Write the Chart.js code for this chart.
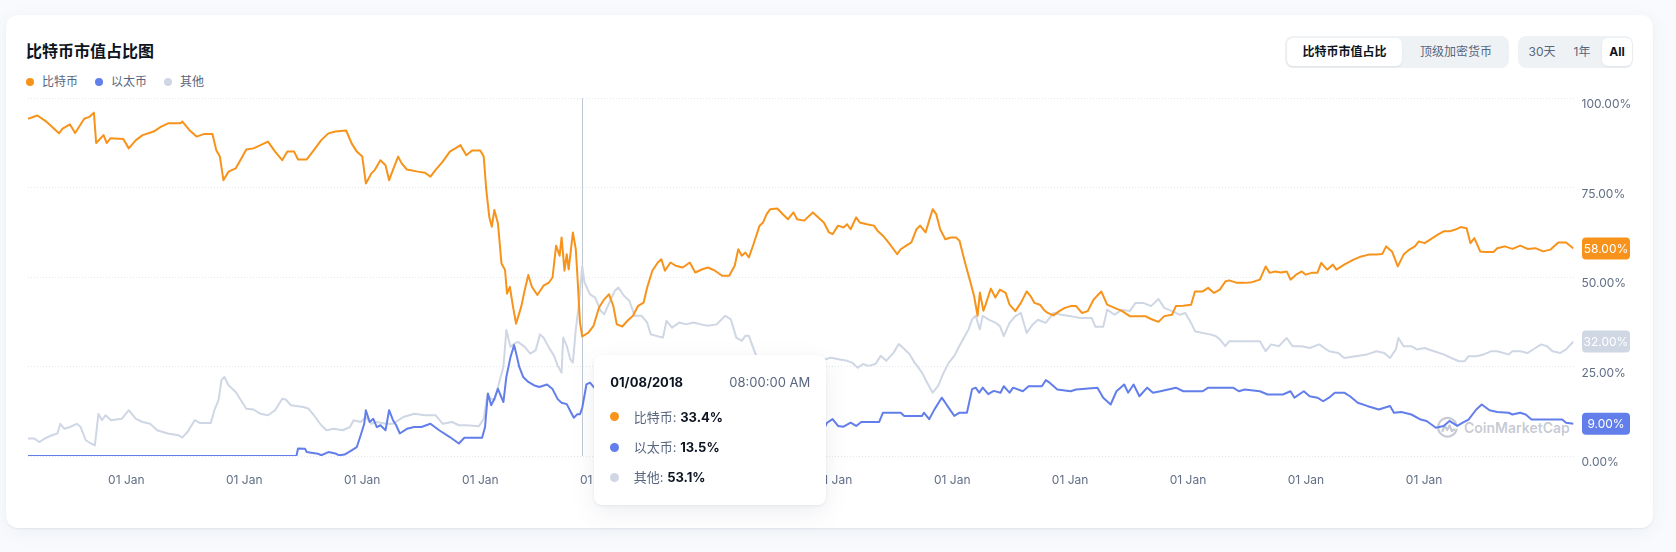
<!DOCTYPE html>
<html lang="zh-CN">
<head>
<meta charset="utf-8">
<title>比特币市值占比图</title>
<script src="https://cdn.jsdelivr.net/npm/chart.js@4.4.1/dist/chart.umd.min.js"></script>
<style>
  html, body { margin: 0; padding: 0; }
  body {
    width: 1676px; height: 552px; position: relative; overflow: hidden;
    background: #f8fafd;
    font-family: Inter, "Noto Sans CJK SC", "Noto Sans", sans-serif;
    color: #0d1421;
  }
  .card {
    position: absolute; left: 6px; top: 15px; width: 1647px; height: 513px;
    background: #fff; border-radius: 12px;
    box-shadow: 0 1px 2px rgba(88,102,126,0.10), 0 4px 20px rgba(88,102,126,0.06);
  }
  .title { position: absolute; left: 26px; top: 41px; font-size: 16px; line-height: 21px; font-weight: 700; }
  .legend { position: absolute; left: 26px; top: 73px; display: flex; gap: 17px; font-size: 12px; line-height: 17px; color: #58667e; }
  .legend .item { display: flex; align-items: center; }
  .legend i { width: 8px; height: 8px; border-radius: 50%; margin-right: 8px; display: inline-block; }
  .tabs { position: absolute; top: 36px; height: 32px; background: #eff2f5; border-radius: 8px; }
  .tab { position: absolute; top: 2px; height: 28px; line-height: 28px; font-size: 12px; color: #58667e; text-align: center; border-radius: 6px; }
  .tab.on { background: #fff; color: #0d1421; font-weight: 700; box-shadow: 0 1px 2px rgba(88,102,126,0.12); }
  #chart { position: absolute; left: 0; top: 0; z-index: 2; }
  .watermark {
    position: absolute; left: 1436px; top: 416px; z-index: 1;
    display: flex; align-items: center; gap: 5px;
    color: rgba(128,138,157,0.45); font-size: 14px; font-weight: 600;
  }
  .tip {
    position: absolute; top: 355px; width: 232px; height: 150px; z-index: 3;
    background: #fff; border-radius: 8px; font-size: 13px;
    box-shadow: 0 1px 3px rgba(88,102,126,0.10), 0 8px 24px rgba(88,102,126,0.10);
  }
  .tip .date { position: absolute; left: 16px; top: 18px; line-height: 18px; font-weight: 700; }
  .tip .time { position: absolute; right: 16px; top: 18px; line-height: 18px; color: #58667e; }
  .tip .row { position: absolute; left: 16px; line-height: 18px; display: flex; align-items: center; color: #58667e; white-space: nowrap; }
  .tip .row i { width: 9px; height: 9px; border-radius: 50%; margin-right: 14.5px; display: inline-block; }
  .tip .row b { color: #0d1421; }
</style>
</head>
<body>
<div class="card"></div>
<div class="title">比特币市值占比图</div>
<div class="legend" id="legend"></div>

<div class="tabs" style="left:1285px;width:224px">
  <div class="tab on" style="left:2px;width:115px">比特币市值占比</div>
  <div class="tab" style="left:121px;width:100px">顶级加密货币</div>
</div>
<div class="tabs" style="left:1518px;width:115px">
  <div class="tab" style="left:6px;width:36px">30天</div>
  <div class="tab" style="left:46px;width:36px">1年</div>
  <div class="tab on" style="left:84px;width:30px">All</div>
</div>

<div class="watermark">
  <svg width="23" height="23" viewBox="0 0 23 23" fill="none" stroke="currentColor" stroke-width="2.2" stroke-linecap="round" stroke-linejoin="round">
    <path d="M20.5 13.5 A9.3 9.3 0 1 1 20.5 9"/>
    <path d="M6.5 15 L8.8 9.5 L11.2 14 L13.6 9.5 L15.8 15 L18 13.5"/>
  </svg>
  <span>CoinMarketCap</span>
</div>

<canvas id="chart" width="1676" height="552"></canvas>
<div class="tip" id="tip"></div>

<script>
// 比特币 (BTC) 市值占比, %
const btcDates = [
  '2013-04-28','2013-05-27','2013-06-25','2013-08-02','2013-08-13','2013-09-05','2013-09-21','2013-10-19','2013-11-04','2013-11-18','2013-11-25','2013-12-18','2013-12-28',
  '2014-01-08','2014-02-17','2014-03-06','2014-03-28','2014-04-18','2014-05-22','2014-06-13','2014-07-06','2014-08-13','2014-08-19','2014-09-10','2014-10-02','2014-10-24','2014-11-20','2014-12-02','2014-12-13','2014-12-24',
  '2015-01-09','2015-01-31','2015-03-05','2015-03-27','2015-04-18','2015-05-11','2015-06-02','2015-06-24','2015-07-10','2015-07-31','2015-08-12','2015-09-08','2015-09-30','2015-10-23','2015-11-14','2015-12-06',
  '2016-01-08','2016-01-25','2016-02-10','2016-02-27','2016-03-09','2016-03-26','2016-04-06','2016-04-23','2016-05-09','2016-05-20','2016-06-01','2016-06-17','2016-06-28','2016-07-14','2016-08-17','2016-09-08','2016-09-25','2016-10-11','2016-11-02','2016-11-24','2016-12-11','2016-12-27',
  '2017-01-14','2017-02-01','2017-02-26','2017-03-09','2017-03-17','2017-03-26','2017-04-03','2017-04-11','2017-04-22','2017-05-03','2017-05-14','2017-05-20','2017-05-29','2017-06-06','2017-06-17','2017-07-03','2017-07-14','2017-07-25','2017-08-05','2017-08-22','2017-09-10','2017-09-27','2017-10-08','2017-10-19','2017-10-30','2017-11-05','2017-11-14','2017-11-21','2017-11-27','2017-12-10','2017-12-19','2017-12-24',
  '2018-01-01','2018-01-08','2018-01-27','2018-02-12','2018-03-01','2018-03-17','2018-04-01','2018-04-14','2018-04-25','2018-05-12','2018-05-28','2018-06-14','2018-06-30','2018-07-17','2018-07-28','2018-08-13','2018-08-30','2018-09-10','2018-09-21','2018-10-08','2018-10-24','2018-11-15','2018-12-07','2018-12-24',
  '2019-01-15','2019-02-01','2019-02-23','2019-03-17','2019-04-08','2019-04-25','2019-05-06','2019-05-17','2019-05-28','2019-06-08','2019-06-24','2019-07-11','2019-07-22','2019-08-02','2019-08-13','2019-09-04','2019-09-21','2019-10-07','2019-10-24','2019-11-04','2019-11-26','2019-12-23',
  '2020-01-09','2020-01-26','2020-02-11','2020-02-22','2020-03-10','2020-03-27','2020-04-07','2020-04-18','2020-05-05','2020-05-16','2020-06-07','2020-06-29','2020-07-10','2020-07-27','2020-08-13','2020-08-29','2020-09-09','2020-09-20','2020-10-07','2020-10-23','2020-11-08','2020-11-19','2020-12-06','2020-12-17','2020-12-28',
  '2021-01-08','2021-01-20','2021-02-05','2021-02-22','2021-03-10','2021-03-21','2021-04-07','2021-04-24','2021-05-05','2021-05-16','2021-05-23','2021-06-03','2021-06-12','2021-06-26','2021-07-10','2021-07-24','2021-08-11','2021-08-23','2021-09-10','2021-09-27','2021-10-15','2021-10-27','2021-11-08','2021-11-25','2021-12-07','2021-12-19',
  '2022-01-06','2022-01-24','2022-02-10','2022-02-28','2022-03-17','2022-04-04','2022-04-22','2022-05-10','2022-06-03','2022-06-21','2022-07-14','2022-08-07','2022-08-30','2022-09-23','2022-10-17','2022-11-04','2022-11-27','2022-12-15',
  '2023-01-08','2023-01-20','2023-02-12','2023-03-08','2023-03-20','2023-04-13','2023-04-30','2023-05-18','2023-06-05','2023-06-22','2023-07-04','2023-07-28','2023-08-21','2023-09-13','2023-10-07','2023-10-25','2023-11-06','2023-11-23','2023-12-11','2023-12-29',
  '2024-01-10','2024-01-27','2024-02-14','2024-02-26','2024-03-15','2024-04-02','2024-04-14','2024-05-02','2024-05-20','2024-05-31','2024-06-24','2024-07-23','2024-08-16','2024-09-08','2024-10-02','2024-10-20','2024-11-01','2024-11-19','2024-12-01','2024-12-07','2024-12-25',
  '2025-01-12','2025-01-29','2025-02-10','2025-02-28','2025-03-17','2025-04-10','2025-04-28','2025-05-16','2025-06-03','2025-06-20','2025-07-08','2025-07-20','2025-08-01','2025-08-19','2025-09-05','2025-09-29','2025-10-11','2025-11-03','2025-11-27','2025-12-21',
  '2026-01-13','2026-02-06','2026-03-02','2026-03-25','2026-04-18','2026-05-12','2026-06-04'
];
const btcValues = [
  94.3, 95.2, 93.4, 90.2, 91.5, 92.7, 90.3, 94.3, 94.8, 96, 87.5, 89.7, 87.5,
  88.8, 88.6, 86, 88.3, 89.7, 90.7, 92, 93, 93, 93.5, 91.1, 89.3, 90, 90, 85.5, 83.7, 77.1,
  79.5, 80.4, 85.7, 86, 86.9, 87.9, 85.1, 82.7, 85.1, 85.1, 82.9, 82.9, 85.5, 88.3, 90.2, 90.7,
  91, 87.4, 85.1, 83.7, 76.2, 79, 80, 82.7, 81.3, 77.1, 80, 83.7, 81.8, 80.1, 79.5, 79.2, 78.1, 80, 82.3, 85.1, 86, 86.9,
  84.1, 85.4, 85.4, 83.7, 74.3, 66.9, 64.1, 68.8, 65, 53.8, 52, 45.4, 47.3, 42.6, 37, 41.7, 46.4, 50.6, 47.3, 45, 47.6, 48.5, 49.9, 58.8, 56, 61.1, 51.8, 56.4, 52.2, 62.5, 57.8, 50.4,
  37.3, 33.4, 34.5, 36.4, 41.5, 43.8, 45.2, 42, 36.8, 36.2, 37.8, 39.2, 42, 42.9, 47.1, 51.8, 54.1, 55, 51.8, 54.1, 53.2, 52.7, 54.1, 51.3,
  52.2, 52.7, 51.8, 50.4, 50.4, 53.2, 57.8, 56, 56.9, 55.5, 59.7, 64.4, 65.3, 67.6, 69, 69.2, 67.6, 66.2, 68.1, 66.2, 65.8, 68.1,
  66.7, 65.3, 62.5, 62, 64.4, 63.9, 64.8, 63.4, 66.7, 65.3, 64.8, 64.4, 63, 61.6, 59.7, 57.8, 56.4, 57.8, 58.8, 59.7, 63.4, 64.4, 62.5, 65.8, 69,
  67.6, 63.4, 60.6, 61.1, 61.1, 60.2, 54.1, 48.5, 44.8, 39.2, 45.7, 40.6, 42.9, 46.8, 44.3, 46.5, 45.6, 42.3, 40.5, 42.8, 46, 44.7, 42.8, 42.3, 40.9, 40,
  39.3, 40.5, 41.4, 41.9, 41.9, 40, 40.5, 43.7, 46, 42.3, 41.4, 40.5, 39.1, 39.1, 39.1, 38.3, 37.5, 39.1,
  39.5, 41.9, 42, 42.3, 46, 46, 47, 45.6, 46.5, 48.8, 49.1, 48.4, 48.4, 48.6, 49.3, 53, 51.2, 51.6, 51.3, 51.6,
  49.3, 50.7, 51.6, 50.7, 51.2, 51.2, 54, 52.1, 53.5, 52.1, 53.5, 54.9, 55.8, 56.3, 56.3, 56.5, 58.6, 57.2, 54.4, 53, 56.3,
  57.7, 58.6, 60, 59.5, 60.5, 61.9, 62.8, 62.8, 63.3, 64, 63.7, 59.5, 60.9, 57.2, 57, 57, 58.1, 58.6, 57.9, 58.8,
  57.9, 58.1, 57.2, 57.7, 59.7, 59.7, 58
];

// 以太币 (ETH) 市值占比, %
const ethDates = [
  '2013-04-28',
  '2015-08-07','2015-08-12','2015-09-03','2015-09-08','2015-10-12','2015-10-23','2015-11-14','2015-12-06','2015-12-17',
  '2016-01-03','2016-01-25','2016-02-10','2016-02-22','2016-03-04','2016-03-09','2016-03-21','2016-04-01','2016-04-12','2016-04-23','2016-05-09','2016-05-20','2016-06-01','2016-06-11','2016-06-22','2016-07-14','2016-08-06','2016-08-28','2016-09-25','2016-10-22','2016-11-24','2016-12-22',
  '2017-01-08','2017-03-04','2017-03-13','2017-03-22','2017-04-01','2017-04-11','2017-04-22','2017-04-28','2017-05-09','2017-05-18','2017-05-31','2017-06-11','2017-06-20','2017-06-27','2017-07-09','2017-07-25','2017-08-11','2017-08-28','2017-09-21','2017-10-08','2017-10-24','2017-11-05','2017-11-21','2017-12-02','2017-12-13','2017-12-24',
  '2018-01-01','2018-01-08','2018-01-21','2018-02-01','2018-03-01','2018-04-01','2018-05-01','2018-06-01','2018-07-01','2018-08-01','2018-09-01','2018-10-01','2018-11-01','2018-12-01',
  '2019-01-01','2019-02-01','2019-03-01','2019-04-01','2019-05-01','2019-06-01','2019-07-01','2019-08-01','2019-09-01','2019-10-01','2019-11-01','2019-12-01',
  '2020-01-01','2020-01-26','2020-02-05','2020-02-22','2020-03-10','2020-03-27','2020-04-18','2020-05-05','2020-05-21','2020-07-15','2020-07-27','2020-09-20','2020-10-01','2020-11-25','2020-12-01','2020-12-17',
  '2021-01-03','2021-01-25','2021-02-05','2021-02-22','2021-03-05','2021-03-21','2021-04-13','2021-04-29','2021-05-10','2021-05-21','2021-06-01','2021-06-18','2021-07-05','2021-07-26','2021-08-05','2021-08-23','2021-09-03','2021-10-03','2021-10-21','2021-12-01','2021-12-13','2021-12-25',
  '2022-01-18','2022-02-28','2022-03-17','2022-05-22','2022-06-09','2022-07-02','2022-07-20','2022-08-13','2022-08-25','2022-09-11','2022-09-29','2022-10-23','2022-11-10','2022-12-03',
  '2023-01-20','2023-02-12','2023-04-13','2023-04-30','2023-07-16','2023-08-03','2023-08-21','2023-10-07','2023-10-31','2023-12-17',
  '2024-01-10','2024-01-22','2024-02-20','2024-03-09','2024-04-02','2024-04-20','2024-05-08','2024-05-26','2024-06-24','2024-07-12','2024-08-05','2024-09-03','2024-10-09','2024-11-13','2024-11-25','2024-12-18',
  '2025-01-18','2025-02-16','2025-03-06','2025-04-04','2025-04-28','2025-05-16','2025-06-09','2025-06-26','2025-07-14','2025-08-07','2025-08-24','2025-09-17','2025-10-11','2025-11-15','2025-11-27','2025-12-21',
  '2026-01-07','2026-01-25','2026-04-30','2026-05-12','2026-06-04'
];
const ethValues = [
  0,
  0, 2.1, 2, 1.1, 0.65, 0.2, 1.1, 0.7, 0.2,
  0.4, 1.6, 2.5, 5.8, 9, 12.8, 9.5, 10.4, 8.1, 8.6, 7.2, 12.8, 10, 8.6, 6.3, 7.6, 8.1, 8.1, 9, 7.2, 5.3, 3.5,
  5.1, 5.1, 8.1, 17.5, 14.2, 16, 18.8, 17.4, 15.1, 22.1, 27.7, 31, 27.7, 24.9, 22.1, 20.7, 19.8, 19.3, 20, 18.7, 15.9, 14.9, 14.5, 12.6, 10.7, 11.7,
  11.7, 13.5, 20, 20.5, 17.5, 16.5, 17.5, 16, 16.5, 13.5, 10.5, 10.8, 10.2, 10.8,
  10.5, 10.5, 9.5, 9.5, 9.2, 9.5, 8.2, 7.5, 7.6, 8.4, 7.8, 7.3,
  7.1, 7.5, 9.3, 10.3, 8.4, 8.2, 9.3, 8.4, 9.5, 9.5, 12.1, 12.1, 11.2, 11.2, 12.1, 10.3,
  13.1, 16.3, 14.9, 12.6, 11.2, 12.1, 12.1, 18.7, 19.1, 17.7, 19.1, 17.3, 18.2, 17.7, 19.5, 17.7, 19.1, 18.1, 19.5, 19.5, 21.2, 20.5,
  18.6, 18.1, 18.6, 19.1, 16.3, 14.4, 18.1, 20, 17.7, 20, 16.7, 19.1, 17.7, 18.1,
  19.1, 18.1, 18.1, 19.1, 19.1, 18.1, 18.6, 18.1, 17.2, 17.2,
  18.1, 16.3, 18.1, 16.7, 16.3, 15.3, 16.3, 17.7, 17.7, 16.7, 14.9, 14, 13, 14, 12.1, 12.3,
  11.6, 10.2, 9.8, 7.9, 8.4, 9.8, 8.4, 9.3, 10.2, 13, 14.4, 12.8, 12.3, 12.1, 11.6, 12.1,
  11.6, 10.2, 10.2, 9.3, 9
];

// 其他 市值占比, %
const otherDates = [
  '2013-04-28','2013-05-17','2013-06-02','2013-06-19','2013-07-11','2013-07-28','2013-08-06','2013-08-19','2013-09-05','2013-09-26','2013-10-08','2013-10-24','2013-11-09','2013-11-21','2013-12-02','2013-12-13','2013-12-24',
  '2014-01-10','2014-02-12','2014-03-06','2014-03-28','2014-04-18','2014-05-11','2014-06-02','2014-07-05','2014-08-07','2014-08-19','2014-09-04','2014-09-26','2014-10-13','2014-11-15','2014-11-26','2014-12-09','2014-12-18','2014-12-27',
  '2015-01-09','2015-01-31','2015-03-05','2015-03-27','2015-04-18','2015-05-11','2015-06-02','2015-06-24','2015-07-05','2015-07-21','2015-08-29','2015-09-14','2015-09-30','2015-10-23','2015-11-08','2015-12-01','2015-12-28',
  '2016-01-20','2016-01-31','2016-02-22','2016-03-09','2016-03-26','2016-04-12','2016-05-09','2016-06-01','2016-07-03','2016-08-06','2016-09-08','2016-10-11','2016-11-02','2016-12-01','2016-12-22',
  '2017-01-14','2017-02-22','2017-03-09','2017-03-20','2017-04-01','2017-04-11','2017-04-22','2017-05-03','2017-05-09','2017-05-18','2017-05-31','2017-06-11','2017-06-23','2017-07-14','2017-07-31','2017-08-17','2017-08-30','2017-09-10','2017-09-27','2017-10-13','2017-10-24','2017-11-05','2017-11-10','2017-11-21','2017-12-02','2017-12-10','2017-12-19','2017-12-28',
  '2018-01-08','2018-01-15','2018-02-01','2018-02-17','2018-03-06','2018-03-17','2018-04-02','2018-04-19','2018-04-30','2018-05-17','2018-06-03','2018-06-19','2018-07-11','2018-07-28','2018-08-08','2018-08-24','2018-09-15','2018-09-26','2018-10-13','2018-11-04','2018-11-26','2018-12-18',
  '2019-01-10','2019-02-01','2019-02-28','2019-03-27','2019-04-13','2019-04-30','2019-05-17','2019-05-28','2019-06-08','2019-06-19','2019-07-05','2019-08-01','2019-09-04','2019-10-07','2019-11-04','2019-12-01',
  '2020-01-01','2020-01-31','2020-02-16','2020-03-15','2020-04-07','2020-04-23','2020-05-10','2020-05-26','2020-06-12','2020-07-04','2020-07-20','2020-08-06','2020-08-29','2020-09-14','2020-10-01','2020-10-17','2020-11-02','2020-11-25','2020-12-11','2020-12-28',
  '2021-01-14','2021-01-31','2021-02-16','2021-03-05','2021-03-21','2021-04-07','2021-04-18','2021-04-29','2021-05-10','2021-05-23','2021-06-01','2021-06-18','2021-07-10','2021-07-24','2021-08-05','2021-08-23','2021-09-10','2021-09-27','2021-10-15','2021-11-02','2021-11-19','2021-12-13',
  '2022-01-06','2022-01-30','2022-02-28','2022-03-29','2022-05-04','2022-05-16','2022-06-09','2022-06-21','2022-07-14','2022-08-07','2022-08-30','2022-09-17','2022-10-11','2022-11-04','2022-11-27','2022-12-15',
  '2023-01-08','2023-01-31','2023-02-18','2023-03-08','2023-03-20','2023-04-13','2023-05-06','2023-05-24','2023-06-05','2023-06-22','2023-07-04','2023-08-21','2023-10-07','2023-10-25','2023-11-11','2023-12-05','2023-12-29',
  '2024-01-16','2024-02-14','2024-03-09','2024-04-08','2024-05-08','2024-06-06','2024-06-24','2024-07-29','2024-09-03','2024-10-02','2024-10-26','2024-11-13','2024-12-01','2024-12-09','2024-12-25',
  '2025-01-18','2025-02-04','2025-02-28','2025-03-29','2025-04-28','2025-05-22','2025-06-14','2025-07-02','2025-07-14','2025-08-07','2025-08-30','2025-09-23','2025-10-11','2025-11-15','2025-11-27','2025-12-21',
  '2026-01-13','2026-02-06','2026-02-24','2026-03-14','2026-03-31','2026-04-24','2026-05-12','2026-06-04'
];
const otherValues = [
  4.9, 4.9, 3.9, 4.9, 5.8, 6.3, 9, 7.6, 8.1, 9, 8.1, 4.4, 3.5, 3, 11.8, 10, 11.4,
  10, 10.4, 12.8, 10.4, 9.5, 9, 7.2, 6.3, 5.8, 5.2, 6.7, 10, 9.2, 9.2, 12.8, 15.6, 21.2, 22.1,
  19.8, 17.9, 13.2, 13, 11.8, 11.4, 12.8, 16, 15.8, 14.2, 13.7, 13.2, 11.4, 8.6, 7.2, 7.6, 7.2,
  8.1, 10, 9.5, 10.9, 9, 9.5, 9, 9, 10.9, 11.8, 11.4, 11.4, 9, 9.5, 8.6,
  8.6, 8.3, 10.4, 17, 16, 15.6, 19.3, 23, 24.9, 35.2, 30.5, 31.4, 31.9, 30.5, 28.6, 29.6, 34, 33.1, 30.3, 28, 25.2, 23.3, 33.1, 30.8, 27, 26.1, 35.4, 42,
  53.1, 48.5, 45.2, 44.3, 40.6, 39.6, 42.9, 46.2, 47.1, 44.8, 43.4, 39.2, 39.2, 37.3, 34, 33.6, 33.1, 37.8, 35.9, 37.3, 36.8, 37.3,
  36.8, 36.4, 36.8, 39.2, 38.2, 33.1, 32.2, 33.6, 33.6, 30.8, 27, 24.9, 23.2, 25.4, 26, 26.7,
  25.9, 27, 27.5, 27, 26.6, 26.1, 24.7, 25.7, 25.2, 25.7, 28, 26.6, 28.9, 31.3, 29.9, 28.5, 26.1, 23.3, 20.5, 17.7,
  19.6, 23.3, 26.1, 28, 30.8, 33.6, 35.4, 38.2, 39.2, 35.4, 39.2, 38.2, 37.3, 36.3, 33.5, 37.2, 39.1, 40, 34.4, 36.7, 38.1, 37.2,
  40, 39.5, 39.1, 38.6, 38.6, 36.1, 36.1, 40.9, 39.5, 40.9, 40.5, 42.8, 42.8, 41.9, 43.9, 41.4,
  40.5, 39.5, 40, 37.2, 34.9, 34.4, 34, 33.5, 32.6, 30.7, 32.1, 32.1, 32.1, 29.3, 31.2, 30.7, 33,
  30.7, 30.7, 30.2, 31.2, 29.3, 28.8, 27.4, 27.9, 28.4, 29.3, 28.8, 27.4, 29.8, 33, 30.7,
  30.7, 29.8, 30.2, 29.3, 28.4, 27.4, 26.5, 26.5, 27.9, 27.9, 28.4, 29.3, 29.3, 28.4, 29.3, 29.3,
  28.8, 30.2, 31.2, 30.7, 29.3, 28.8, 29.8, 32
];

const seriesNames = ['比特币', '以太币', '其他'];
const tickYears = [2014, 2015, 2016, 2017, 2018, 2019, 2020, 2021, 2022, 2023, 2024, 2025];
const yTicks = [0, 25, 50, 75, 100];
const hoverDate = '2018-01-08';   // 悬停提示所在日期
const hoverTime = '08:00:00 AM';

const colors = ['#f7931a', '#627eea', '#cfd6e4'];
const monthNames = ['Jan','Feb','Mar','Apr','May','Jun','Jul','Aug','Sep','Oct','Nov','Dec'];
const toPoints = (dates, values) => dates.map((d, i) => ({ x: Date.parse(d), y: values[i] }));
const seriesDates = [btcDates, ethDates, otherDates];
const seriesValues = [btcValues, ethValues, otherValues];

// 图例
document.getElementById('legend').innerHTML = seriesNames
  .map((n, i) => `<span class="item"><i style="background:${colors[i]}"></i>${n}</span>`).join('');

// 悬停竖线
const crosshair = {
  id: 'crosshair',
  beforeDatasetsDraw(chart) {
    const { ctx, chartArea, scales } = chart;
    const x = Math.round(scales.x.getPixelForValue(Date.parse(hoverDate))) + 0.5;
    ctx.save();
    ctx.strokeStyle = '#c3c9d4';
    ctx.lineWidth = 1;
    ctx.beginPath();
    ctx.moveTo(x, chartArea.top);
    ctx.lineTo(x, chartArea.bottom);
    ctx.stroke();
    ctx.restore();
  }
};

// 右侧最新值标签
const lastBadges = {
  id: 'lastBadges',
  afterDatasetsDraw(chart) {
    const { ctx, chartArea, scales } = chart;
    ctx.save();
    chart.data.datasets.forEach(ds => {
      const last = ds.data[ds.data.length - 1].y;
      const y = scales.y.getPixelForValue(last);
      const x = chartArea.right + 8.5;
      ctx.fillStyle = ds.borderColor;
      ctx.beginPath();
      ctx.roundRect(x, y - 11, 48, 22, 4);
      ctx.fill();
      ctx.fillStyle = '#ffffff';
      ctx.font = '12px Inter, "Noto Sans CJK SC", sans-serif';
      ctx.textAlign = 'center';
      ctx.textBaseline = 'middle';
      ctx.fillText(last.toFixed(2) + '%', x + 24, y + 0.5);
    });
    ctx.restore();
  }
};

const chart = new Chart(document.getElementById('chart'), {
  type: 'line',
  data: {
    datasets: seriesNames.map((name, i) => ({
      label: name,
      data: toPoints(seriesDates[i], seriesValues[i]),
      borderColor: colors[i],
      backgroundColor: colors[i],
      borderWidth: 2,
      pointRadius: 0,
      tension: 0,
      borderJoinStyle: 'round',
      order: i + 1
    }))
  },
  options: {
    responsive: false,
    animation: false,
    devicePixelRatio: 1,
    parsing: false,
    layout: { padding: { left: 28, top: 98.3, right: 0, bottom: 0 } },
    plugins: { legend: { display: false }, tooltip: { enabled: false } },
    scales: {
      x: {
        type: 'linear',
        min: Date.parse(btcDates[0]),
        max: Date.parse(btcDates[btcDates.length - 1]),
        grid: { display: false },
        border: { display: false },
        afterBuildTicks: axis => { axis.ticks = tickYears.map(yr => ({ value: Date.UTC(yr, 0, 1) })); },
        afterFit: axis => { axis.height = 96; },
        ticks: {
          autoSkip: false,
          maxRotation: 0,
          align: 'start',
          padding: 9,
          color: '#616e85',
          font: { family: 'Inter, "Noto Sans CJK SC", sans-serif', size: 12 },
          callback: v => {
            const d = new Date(v);
            return String(d.getUTCDate()).padStart(2, '0') + ' ' + monthNames[d.getUTCMonth()];
          }
        }
      },
      y: {
        position: 'right',
        min: 0,
        max: 100,
        afterBuildTicks: axis => { axis.ticks = yTicks.map(v => ({ value: v })); },
        afterFit: axis => { axis.width = 102.5; },
        grid: { color: '#e3e7ee', drawTicks: false, lineWidth: 1 },
        border: { display: false, dash: [1, 2] },
        ticks: {
          padding: 8,
          labelOffset: 6.5,
          color: '#616e85',
          font: { family: 'Inter, "Noto Sans CJK SC", sans-serif', size: 12 },
          callback: v => v.toFixed(2) + '%'
        }
      }
    }
  },
  plugins: [crosshair, lastBadges]
});

// 悬停提示框
const tip = document.getElementById('tip');
const [yy, mm, dd] = hoverDate.split('-');
const rows = seriesNames.map((name, i) => {
  const v = seriesValues[i][seriesDates[i].indexOf(hoverDate)];
  return `<div class="row" style="top:${52.7 + i * 30.3}px"><i style="background:${colors[i]}"></i>${name}:&nbsp;<b>${v.toFixed(1)}%</b></div>`;
}).join('');
tip.innerHTML = `<div class="date">${mm}/${dd}/${yy}</div><div class="time">${hoverTime}</div>` + rows;
tip.style.left = (chart.scales.x.getPixelForValue(Date.parse(hoverDate)) + 12) + 'px';
</script>
</body>
</html>
